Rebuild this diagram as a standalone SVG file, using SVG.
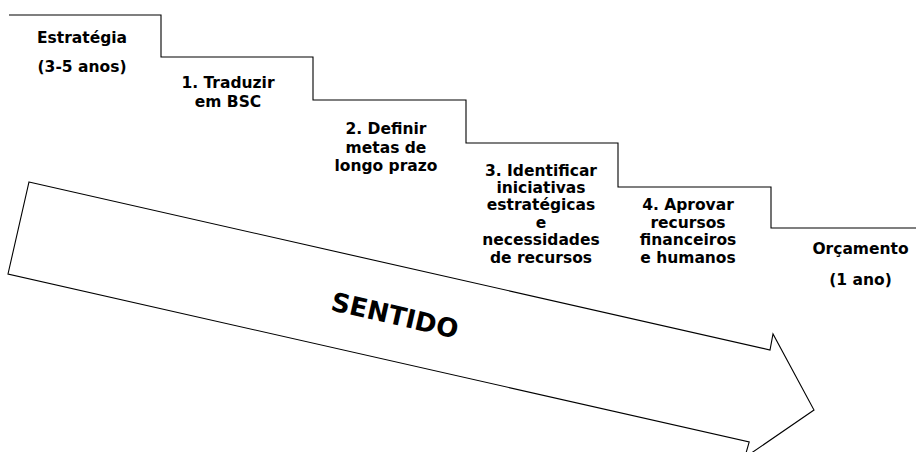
<svg xmlns="http://www.w3.org/2000/svg" width="916" height="452" viewBox="0 0 916 452">
<style>
.t{font-family:"DejaVu Sans","Liberation Sans",sans-serif;font-weight:bold;font-size:15.5px;fill:#000;text-anchor:middle}
.ln{fill:none;stroke:#000;stroke-width:1.1}
</style>
<rect width="916" height="452" fill="#fff"/>
<g id="connectors">
<path id="stairs" class="ln" d="M9,15 H161 V57 H313 V100 H466 V143 H618 V187 H771 V228 H916"/>
<path id="arrow" class="ln" d="M29,182 L770,350 L773,334 L814,410 L744.7,457.6 L749.2,442 L8,274 Z"/>
</g>
<g id="estrategia">
<text class="t" x="82" y="43">Estratégia</text>
<text class="t" x="82" y="72">(3-5 anos)</text>
</g>
<g id="step1">
<text class="t" x="228" y="88">1. Traduzir</text>
<text class="t" x="228" y="107">em BSC</text>
</g>
<g id="step2">
<text class="t" x="386" y="134">2. Definir</text>
<text class="t" x="386" y="153">metas de</text>
<text class="t" x="386" y="171">longo prazo</text>
</g>
<g id="step3">
<text class="t" x="541" y="175.5">3. Identificar</text>
<text class="t" x="541" y="193">iniciativas</text>
<text class="t" x="541" y="210">estratégicas</text>
<text class="t" x="541" y="227.5">e</text>
<text class="t" x="541" y="245">necessidades</text>
<text class="t" x="541" y="262.5">de recursos</text>
</g>
<g id="step4">
<text class="t" x="688" y="210">4. Aprovar</text>
<text class="t" x="688" y="227.5">recursos</text>
<text class="t" x="688" y="245">financeiros</text>
<text class="t" x="688" y="262.5">e humanos</text>
</g>
<g id="orcamento">
<text class="t" x="860.5" y="254">Orçamento</text>
<text class="t" x="860.5" y="285">(1 ano)</text>
</g>
<g id="sentido">
<text class="t" style="font-size:26px" transform="translate(395,315) rotate(12.8)" x="0" y="9.5">SENTIDO</text>
</g>
</svg>
